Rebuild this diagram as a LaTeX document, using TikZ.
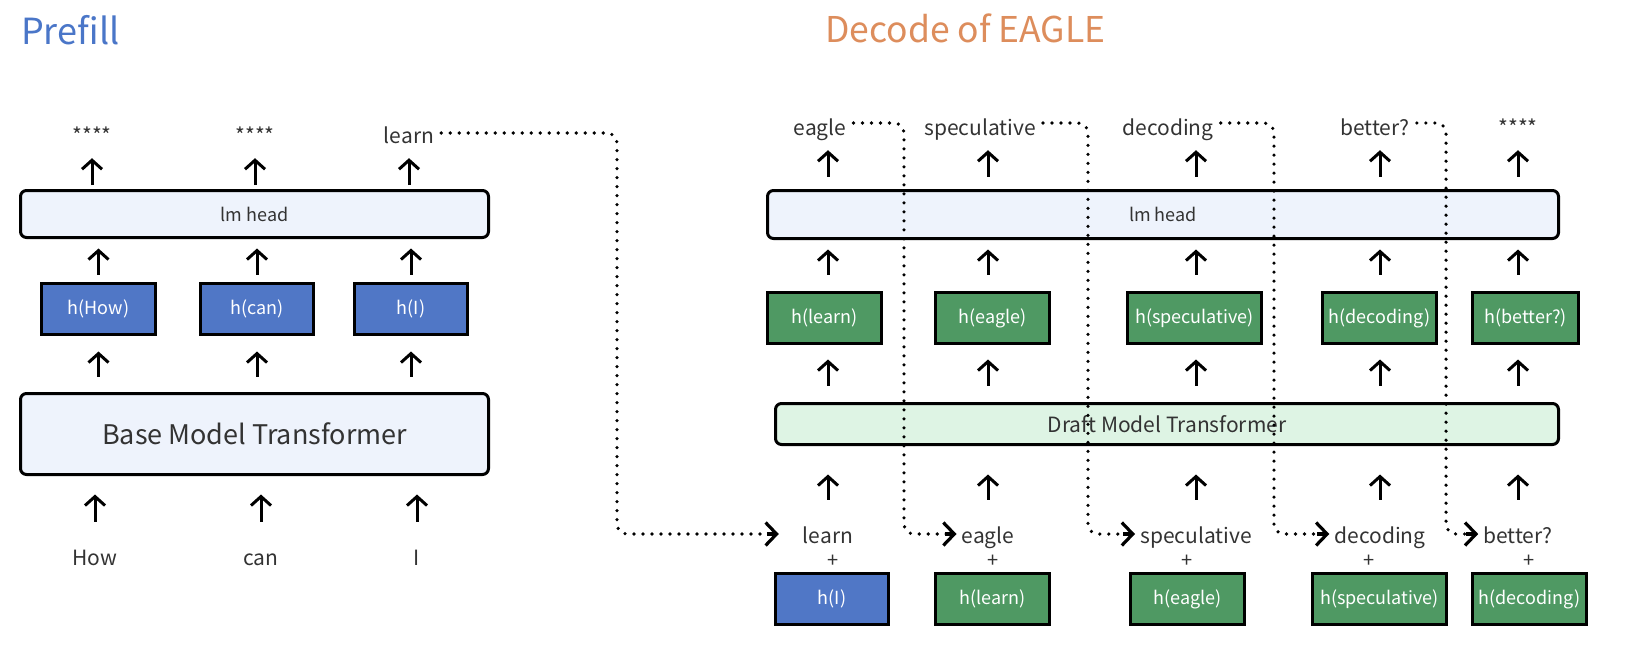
\documentclass[tikz,border=0pt]{standalone}
\usepackage{fontspec}
\setmainfont{Noto Sans CJK SC}
\usetikzlibrary{arrows.meta}

\definecolor{prefillblue}{RGB}{74,118,200}
\definecolor{eagleorange}{RGB}{221,141,92}
\definecolor{hblue}{RGB}{80,119,198}
\definecolor{hgreen}{RGB}{79,153,99}
\definecolor{headfill}{RGB}{238,243,252}
\definecolor{draftfill}{RGB}{222,244,228}
\definecolor{inkgray}{RGB}{51,51,51}

\tikzset{
  layer/.style={draw=black, line width=3pt, rounded corners=6pt, fill=headfill, text=inkgray, inner sep=0pt},
  hstate/.style={draw=black, line width=3pt, text=white, minimum height=51pt, inner sep=0pt, font=\fontsize{18}{18}\selectfont},
  word/.style={text=inkgray, inner sep=0pt, text height=14pt, text depth=4pt, font=\fontsize{21}{21}\selectfont},
  plus/.style={text=inkgray, inner sep=0pt, font=\fontsize{20}{20}\selectfont},
  up/.style={line width=3pt, -{Straight Barb[length=9pt,width=20pt]}},
  feed/.style={line width=3.6pt, line cap=round, dash pattern=on 0pt off 9pt, rounded corners=10pt},
  feedtip/.style={line width=3.2pt, -{Straight Barb[length=11pt,width=23pt]}},
}

\begin{document}
\begin{tikzpicture}[x=1pt,y=-1pt]
    \useasboundingbox (0,0) rectangle (1648,659);

    \node[anchor=base west, inner sep=0pt, text=prefillblue, font=\fontsize{36}{36}\selectfont] (ttlprefill) at (21,44) {Prefill};
    \node[anchor=base west, inner sep=0pt, text=eagleorange, font=\fontsize{35.5}{36}\selectfont] (ttldecode) at (825,42) {Decode of EAGLE};

    \node[layer, minimum width=468pt, minimum height=47pt, font=\fontsize{18}{18}\selectfont] (plm) at (254.5,214) {lm head};
    \node[layer, minimum width=468pt, minimum height=81pt, font=\fontsize{27}{27}\selectfont] (pbase) at (254.5,434) {Base Model Transformer};
    \node[hstate, fill=hblue, minimum width=114pt] (ph1) at (98.5,309) {h(How)};
    \node[hstate, fill=hblue, minimum width=113pt] (ph2) at (257,309) {h(can)};
    \node[hstate, fill=hblue, minimum width=113pt] (ph3) at (411,309) {h(I)};

    \node[word, anchor=base] (pout1) at (92,143) {****};
    \node[word, anchor=base] (pout2) at (255,143) {****};
    \node[word, anchor=base] (pout3) at (409,143) {learn};
    \node[word, anchor=base] (pin1) at (95,565) {How};
    \node[word, anchor=base] (pin2) at (261,565) {can};
    \node[word, anchor=base] (pin3) at (417,565) {I};

    \draw[up, shorten <=4pt, shorten >=11pt] (plm.north -| pout1) -- (pout1.south);
    \draw[up, shorten <=4pt, shorten >=11pt] (plm.north -| pout2) -- (pout2.south);
    \draw[up, shorten <=4pt, shorten >=11pt] (plm.north -| pout3) -- (pout3.south);
    \draw[up, shorten <=7.5pt, shorten >=9.5pt] (ph1.north) -- (ph1.north |- plm.south);
    \draw[up, shorten <=7.5pt, shorten >=9.5pt] (ph2.north) -- (ph2.north |- plm.south);
    \draw[up, shorten <=7.5pt, shorten >=9.5pt] (ph3.north) -- (ph3.north |- plm.south);
    \draw[up, shorten <=15.5pt, shorten >=15.5pt] (pbase.north -| ph1) -- (ph1.south);
    \draw[up, shorten <=15.5pt, shorten >=15.5pt] (pbase.north -| ph2) -- (ph2.south);
    \draw[up, shorten <=15.5pt, shorten >=15.5pt] (pbase.north -| ph3) -- (ph3.south);
    \draw[up, shorten <=29pt, shorten >=18.5pt] (pin1.north) -- (pin1.north |- pbase.south);
    \draw[up, shorten <=29pt, shorten >=18.5pt] (pin2.north) -- (pin2.north |- pbase.south);
    \draw[up, shorten <=29pt, shorten >=18.5pt] (pin3.north) -- (pin3.north |- pbase.south);

    \node[layer, minimum width=791pt, minimum height=48pt, font=\fontsize{18}{18}\selectfont] (dlm) at (1163,214.5) {lm head};
    \node[layer, fill=draftfill, minimum width=783pt, minimum height=41pt, font=\fontsize{21}{21}\selectfont] (ddraft) at (1167,424) {Draft Model Transformer};

    \node[hstate, fill=hgreen, minimum width=114pt] (dh1) at (824.5,318) {h(learn)};
    \node[hstate, fill=hgreen, minimum width=114pt] (dh2) at (992.5,318) {h(eagle)};
    \node[hstate, fill=hgreen, minimum width=134pt] (dh3) at (1194.5,318) {h(speculative)};
    \node[hstate, fill=hgreen, minimum width=114pt] (dh4) at (1379.5,318) {h(decoding)};
    \node[hstate, fill=hgreen, minimum width=106pt] (dh5) at (1525.5,318) {h(better?)};

    \node[hstate, fill=hblue, minimum width=113pt] (dx1) at (832,599) {h(I)};
    \node[hstate, fill=hgreen, minimum width=114pt] (dx2) at (992.5,599) {h(learn)};
    \node[hstate, fill=hgreen, minimum width=114pt] (dx3) at (1187.5,599) {h(eagle)};
    \node[hstate, fill=hgreen, minimum width=134pt] (dx4) at (1379.5,599) {h(speculative)};
    \node[hstate, fill=hgreen, minimum width=114pt] (dx5) at (1529.5,599) {h(decoding)};

    \node[word, anchor=base] (dout1) at (820,135) {eagle};
    \node[word, anchor=base] (dout2) at (980,135) {speculative};
    \node[word, anchor=base] (dout3) at (1168,135) {decoding};
    \node[word, anchor=base] (dout4) at (1375,135) {better?};
    \node[word, anchor=base] (dout5) at (1518,135) {****};

    \node[word, anchor=base] (din1) at (828,543) {learn};
    \node[word, anchor=base] (din2) at (988,543) {eagle};
    \node[word, anchor=base] (din3) at (1196,543) {speculative};
    \node[word, anchor=base] (din4) at (1380,543) {decoding};
    \node[word, anchor=base] (din5) at (1518,543) {better?};

    \node[plus] (dp1) at (833,561) {+};
    \node[plus] (dp2) at (993,561) {+};
    \node[plus] (dp3) at (1187,561) {+};
    \node[plus] (dp4) at (1369,561) {+};
    \node[plus] (dp5) at (1529,561) {+};

    \draw[up, shorten <=12.5pt, shorten >=11pt] (dlm.north -| din1) -- (din1 |- dout1.south);
    \draw[up, shorten <=12.5pt, shorten >=11pt] (dlm.north -| din2) -- (din2 |- dout2.south);
    \draw[up, shorten <=12.5pt, shorten >=11pt] (dlm.north -| din3) -- (din3 |- dout3.south);
    \draw[up, shorten <=12.5pt, shorten >=11pt] (dlm.north -| din4) -- (din4 |- dout4.south);
    \draw[up, shorten <=12.5pt, shorten >=11pt] (dlm.north -| din5) -- (din5 |- dout5.south);
    \draw[up, shorten <=16.5pt, shorten >=9.5pt] (dh1.north -| din1) -- (dlm.south -| din1);
    \draw[up, shorten <=16.5pt, shorten >=9.5pt] (dh2.north -| din2) -- (dlm.south -| din2);
    \draw[up, shorten <=16.5pt, shorten >=9.5pt] (dh3.north -| din3) -- (dlm.south -| din3);
    \draw[up, shorten <=16.5pt, shorten >=9.5pt] (dh4.north -| din4) -- (dlm.south -| din4);
    \draw[up, shorten <=16.5pt, shorten >=9.5pt] (dh5.north -| din5) -- (dlm.south -| din5);
    \draw[up, shorten <=16.5pt, shorten >=14.5pt] (ddraft.north -| din1) -- (dh1.south -| din1);
    \draw[up, shorten <=16.5pt, shorten >=14.5pt] (ddraft.north -| din2) -- (dh2.south -| din2);
    \draw[up, shorten <=16.5pt, shorten >=14.5pt] (ddraft.north -| din3) -- (dh3.south -| din3);
    \draw[up, shorten <=16.5pt, shorten >=14.5pt] (ddraft.north -| din4) -- (dh4.south -| din4);
    \draw[up, shorten <=16.5pt, shorten >=14.5pt] (ddraft.north -| din5) -- (dh5.south -| din5);
    \draw[up, shorten <=29pt, shorten >=28.5pt] (din1.north) -- (din1.north |- ddraft.south);
    \draw[up, shorten <=29pt, shorten >=28.5pt] (din2.north) -- (din2.north |- ddraft.south);
    \draw[up, shorten <=29pt, shorten >=28.5pt] (din3.north) -- (din3.north |- ddraft.south);
    \draw[up, shorten <=29pt, shorten >=28.5pt] (din4.north) -- (din4.north |- ddraft.south);
    \draw[up, shorten <=29pt, shorten >=28.5pt] (din5.north) -- (din5.north |- ddraft.south);

    \coordinate (turn0) at (617,534);
    \coordinate (turn1) at (904,534);
    \coordinate (turn2) at (1088,534);
    \coordinate (turn3) at (1274,534);
    \coordinate (turn4) at (1446,534);
    \coordinate (fend0) at ([xshift=-24pt,yshift=4pt]din1.west);
    \coordinate (fend1) at ([xshift=-5pt,yshift=4pt]din2.west);
    \coordinate (fend2) at ([xshift=-5pt,yshift=4pt]din3.west);
    \coordinate (fend3) at ([xshift=-5pt,yshift=4pt]din4.west);
    \coordinate (fend4) at ([xshift=-5pt,yshift=4pt]din5.west);
    \draw[feed] ([xshift=7pt,yshift=5pt]pout3.east) -| (turn0) -- ([xshift=-8pt]fend0);
    \draw[feed] ([xshift=7pt,yshift=7pt]dout1.east) -| (turn1) -- ([xshift=-8pt]fend1);
    \draw[feed] ([xshift=7pt,yshift=7pt]dout2.east) -| (turn2) -- ([xshift=-8pt]fend2);
    \draw[feed] ([xshift=7pt,yshift=7pt]dout3.east) -| (turn3) -- ([xshift=-8pt]fend3);
    \draw[feed] ([xshift=7pt,yshift=7pt]dout4.east) -| (turn4) -- ([xshift=-8pt]fend4);
    \draw[feedtip] ([xshift=-12pt]fend0) -- (fend0);
    \draw[feedtip] ([xshift=-12pt]fend1) -- (fend1);
    \draw[feedtip] ([xshift=-12pt]fend2) -- (fend2);
    \draw[feedtip] ([xshift=-12pt]fend3) -- (fend3);
    \draw[feedtip] ([xshift=-12pt]fend4) -- (fend4);
\end{tikzpicture}
\end{document}
